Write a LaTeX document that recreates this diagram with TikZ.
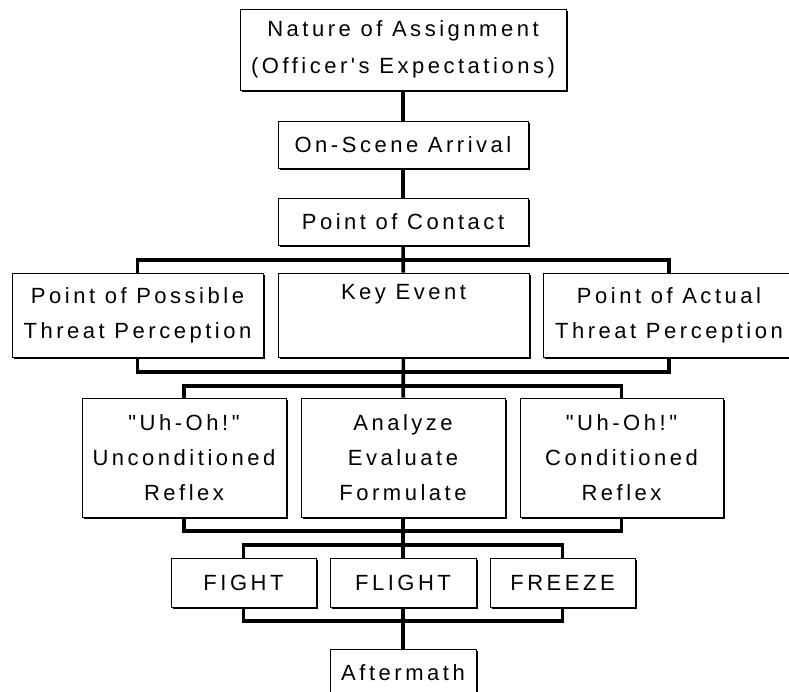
\documentclass[tikz,border=0pt]{standalone}
\usepackage{fontspec}
\setmainfont[LetterSpace=16,Ligatures=TeXOff]{Liberation Sans}
\usetikzlibrary{shadows}
\begin{document}
\begin{tikzpicture}[x=1pt,y=-1pt,
  box/.style={draw, line width=0.8pt, fill=white, align=center, inner sep=0pt,
    font=\fontsize{22}{35}\selectfont,
    drop shadow={shadow xshift=1.5pt, shadow yshift=-1.5pt, opacity=1, fill=black}},
  conn/.style={line width=3.6pt, line join=miter}]
\useasboundingbox (0,0) rectangle (789,691);
\clip (0,0) rectangle (789,691);
\fill[white] (0,0) rectangle (789,691);

\coordinate (b1) at (403,260);
\coordinate (b2) at (403,372);
\coordinate (b3) at (403,386);
\coordinate (b4) at (403,531);
\coordinate (b5) at (403,545);
\coordinate (b6) at (403,621);

\node[box, minimum width=326, minimum height=81, font=\fontsize{22}{37}\selectfont] (nature) at (403,49.5) {Nature of Assignment\\(Officer's Expectations)};
\node[box, minimum width=250, minimum height=47] (arrival) at (403,145) {On-Scene Arrival};
\node[box, minimum width=250, minimum height=47] (contact) at (403,221.5) {Point of Contact};

\node[box, minimum width=251, minimum height=84] (possible) at (137.5,315) {Point of Possible\\Threat Perception};
\node[box, minimum width=251, minimum height=84] (key) at (403.5,315) {Key Event\\\strut};
\node[box, minimum width=252, minimum height=84] (actual) at (669,315) {Point of Actual\\Threat Perception};

\node[box, minimum width=204, minimum height=119] (uncond) at (184,457.5) {"Uh-Oh!"\\Unconditioned\\Reflex};
\node[box, minimum width=204, minimum height=119] (analyze) at (403,457.5) {Analyze\\Evaluate\\Formulate};
\node[box, minimum width=203, minimum height=119] (cond) at (621.5,457.5) {"Uh-Oh!"\\Conditioned\\Reflex};

\node[box, minimum width=145, minimum height=49] (fight) at (243.5,582.5) {FIGHT};
\node[box, minimum width=146, minimum height=49] (flight) at (403,582.5) {FLIGHT};
\node[box, minimum width=145, minimum height=49] (freeze) at (562.5,582.5) {FREEZE};

\node[box, minimum width=146, minimum height=48] (after) at (403,673) {Aftermath};

\draw[conn] (nature) -- (arrival);
\draw[conn] (arrival) -- (contact);
\draw[conn] (contact) -- (key);
\draw[conn] (possible.north) |- (b1) -| (actual.north);
\draw[conn] (key) -- (analyze);
\draw[conn] (possible.south) |- (b2) -| (actual.south);
\draw[conn] (uncond.north) |- (b3) -| (cond.north);
\draw[conn] (uncond.south) |- (b4) -| (cond.south);
\draw[conn] (analyze) -- (flight);
\draw[conn] (fight.north) |- (b5) -| (freeze.north);
\draw[conn] (fight.south) |- (b6) -| (freeze.south);
\draw[conn] (flight) -- (after);
\end{tikzpicture}
\end{document}
